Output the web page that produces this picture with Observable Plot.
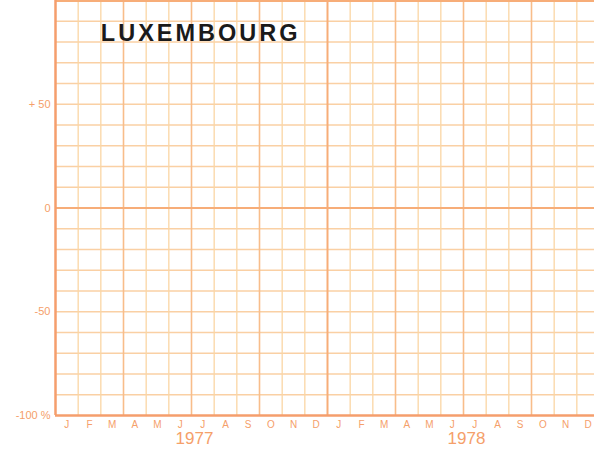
<!DOCTYPE html>
<html>
<head>
<meta charset="utf-8">
<script src="https://cdn.jsdelivr.net/npm/d3@7"></script>
<script src="https://cdn.jsdelivr.net/npm/@observablehq/plot@0.6"></script>
<style>
  html, body { margin: 0; padding: 0; background: #ffffff; }
  #chart svg { display: block; background: #ffffff; }
</style>
</head>
<body>
<div id="chart"></div>
<script>
// ---- data ----
const title = "LUXEMBOURG";
const years = ["1977", "1978"];
const monthLabels = ["J", "F", "M", "A", "M", "J", "J", "A", "S", "O", "N", "D"];
const yTicks = [50, 0, -50, -100];
const yTickLabels = ["+ 50", "0", "-50", "-100 %"];
const yDomain = [-100, 100];
const yGridStep = 10;

// ---- derived tables ----
const nMonths = years.length * monthLabels.length;
const monthIdx = d3.range(nMonths);
const monthBoundaries = d3.range(1, nMonths);
const thinX = monthBoundaries.filter(m => m % 3 !== 0);
const quarterX = monthBoundaries.filter(m => m % 3 === 0 && m % 12 !== 0);
const yearX = monthBoundaries.filter(m => m % 12 === 0);
const gridY = d3.range(yDomain[0] + yGridStep, yDomain[1], yGridStep).filter(v => v !== 0);

const thinV = "#fbd6a4";
const thinH = "#fad0a4";
const mid = "#f8bd8a";
const bold = "#f7ad78";
const axisColor = "#f59e6c";
const labelColor = "#f5a06a";

const chart = Plot.plot({
  width: 594,
  height: 452,
  marginLeft: 55,
  marginRight: -5,
  marginTop: 0,
  marginBottom: 37,
  x: {domain: [0, nMonths], axis: null},
  y: {domain: yDomain, axis: null},
  style: {background: "#ffffff"},
  marks: [
    Plot.ruleY(gridY, {stroke: thinH, strokeWidth: 1.3}),
    Plot.ruleX(thinX, {stroke: thinV, strokeWidth: 1.3}),
    Plot.ruleX(quarterX, {stroke: mid, strokeWidth: 1.6}),
    Plot.ruleX(yearX, {stroke: bold, strokeWidth: 2}),
    Plot.ruleY([0], {stroke: bold, strokeWidth: 2}),
    Plot.ruleY([yDomain[1]], {stroke: bold, strokeWidth: 3}),
    Plot.ruleY([yDomain[0]], {stroke: axisColor, strokeWidth: 2.5}),
    Plot.ruleX([0], {stroke: axisColor, strokeWidth: 2.5}),
    // y tick labels
    Plot.text(yTicks, {
      y: d => d, frameAnchor: "left", text: (d, i) => yTickLabels[i],
      textAnchor: "end", dx: -5, fill: labelColor, fontSize: 11,
      fontFamily: "Liberation Sans, Arial, sans-serif"
    }),
    // month labels
    Plot.text(monthIdx, {
      x: d => d + 0.5, frameAnchor: "bottom", dy: 12,
      text: d => monthLabels[d % 12], fill: labelColor, fontSize: 10,
      fontFamily: "Liberation Sans, Arial, sans-serif"
    }),
    // year labels
    Plot.text(years, {
      x: (d, i) => i * 12 + 6, frameAnchor: "bottom", dy: 28, dx: 3,
      text: d => d, fill: labelColor, fontSize: 17,
      fontFamily: "Liberation Sans, Arial, sans-serif"
    }),
    // title
    Plot.text([title], {
      x: 2, y: 84, text: d => d, textAnchor: "start",
      fill: "#1a1a1a", fontSize: 23.5, fontWeight: "bold",
      fontFamily: "Liberation Sans, Arial, sans-serif"
    })
  ]
});
chart.querySelectorAll("text").forEach(t => {
  if (t.textContent === title) t.setAttribute("letter-spacing", "3");
});
document.getElementById("chart").appendChild(chart);
</script>
</body>
</html>
